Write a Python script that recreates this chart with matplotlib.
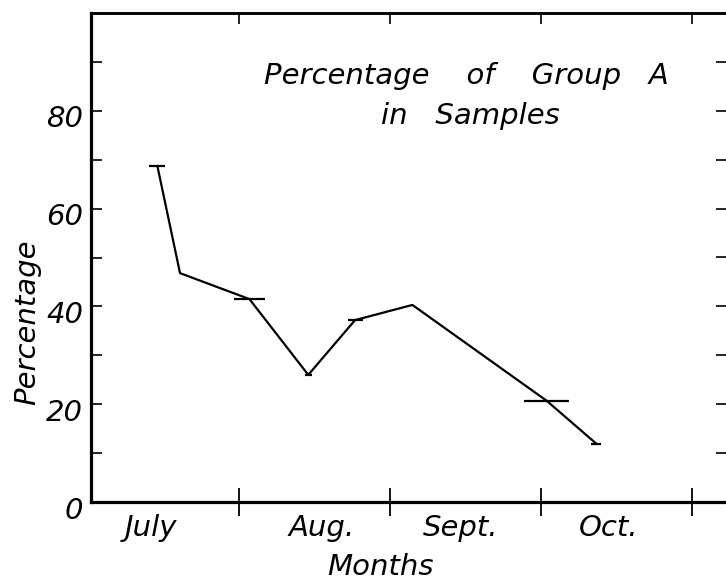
import matplotlib
matplotlib.use('Agg')
import matplotlib.pyplot as plt
from matplotlib.transforms import ScaledTranslation

# data (x in months from start of July)
months = [0.46, 0.61, 1.07, 1.46, 1.77, 2.15, 3.04, 3.37]
percent = [68.7, 46.8, 41.5, 26.0, 37.2, 40.3, 20.7, 11.9]
# half-width of the horizontal marks at each sample (months)
spread = [0.053, 0.0, 0.10, 0.025, 0.05, 0.0, 0.15, 0.033]

month_names = ['July', 'Aug.', 'Sept.', 'Oct.']
month_centers = [0.42, 1.55, 2.47, 3.45]
month_bounds = [1, 2, 3, 4]

plt.rcParams['font.family'] = 'DejaVu Sans'
plt.rcParams['font.style'] = 'italic'
plt.rcParams['font.size'] = 21

W, H = 726, 581
fig = plt.figure(figsize=(W / 100, H / 100), dpi=100)
ax = fig.add_axes([91 / W, 79 / H, (730 - 91) / W, 489 / H])

# the curve and the horizontal sample marks
ax.plot(months, percent, color='black', linewidth=1.6)
ax.errorbar(months, percent, xerr=spread, fmt='none', ecolor='black',
            elinewidth=1.6, capsize=0)

ax.set_xlim(0.02, 4.255)
ax.set_ylim(0, 100)

# spines
ax.spines['right'].set_visible(False)
ax.spines['left'].set_linewidth(2.3)
ax.spines['bottom'].set_linewidth(2.3)
ax.spines['top'].set_linewidth(1.8)

# x axis: ticks at month boundaries, names between them
ax.set_xticks(month_bounds)
ax.set_xticklabels([])
ax.tick_params(axis='x', which='major', direction='inout', length=20,
               width=1.3, top=False)
ax.set_xticks(month_centers, minor=True)
ax.set_xticklabels(month_names, minor=True)
ax.tick_params(axis='x', which='minor', length=0, pad=9)

# y axis
ax.set_yticks([0, 20, 40, 60, 80])
ax.set_yticks([10, 30, 50, 70, 90], minor=True)
ax.tick_params(axis='y', which='both', direction='in', length=8,
               width=1.2, pad=5.5)
for lbl in ax.get_yticklabels():
    lbl.set_transform(lbl.get_transform() +
                      ScaledTranslation(0, -4 / 72, fig.dpi_scale_trans))

# top and right ticks
top = ax.secondary_xaxis('top')
top.set_xticks(month_bounds)
top.set_xticklabels([])
top.tick_params(direction='in', length=8, width=1.2)
top.spines['top'].set_linewidth(1.8)

right = ax.secondary_yaxis('right')
right.set_yticks([10, 20, 30, 40, 50, 60, 70, 80, 90])
right.set_yticklabels([])
right.tick_params(direction='in', length=10, width=1.2)

# labels and title
fig.text(27 / W, 1 - 322 / H, 'Percentage', rotation=90,
         ha='center', va='center')
fig.text(380 / W, 1 - 575 / H, 'Months', ha='center', va='baseline')
fig.text(466 / W, 1 - 84 / H, 'Percentage    of    Group   A',
         ha='center', va='baseline')
fig.text(470 / W, 1 - 124 / H, 'in   Samples', ha='center', va='baseline')

fig.savefig('out.png', dpi=100)
